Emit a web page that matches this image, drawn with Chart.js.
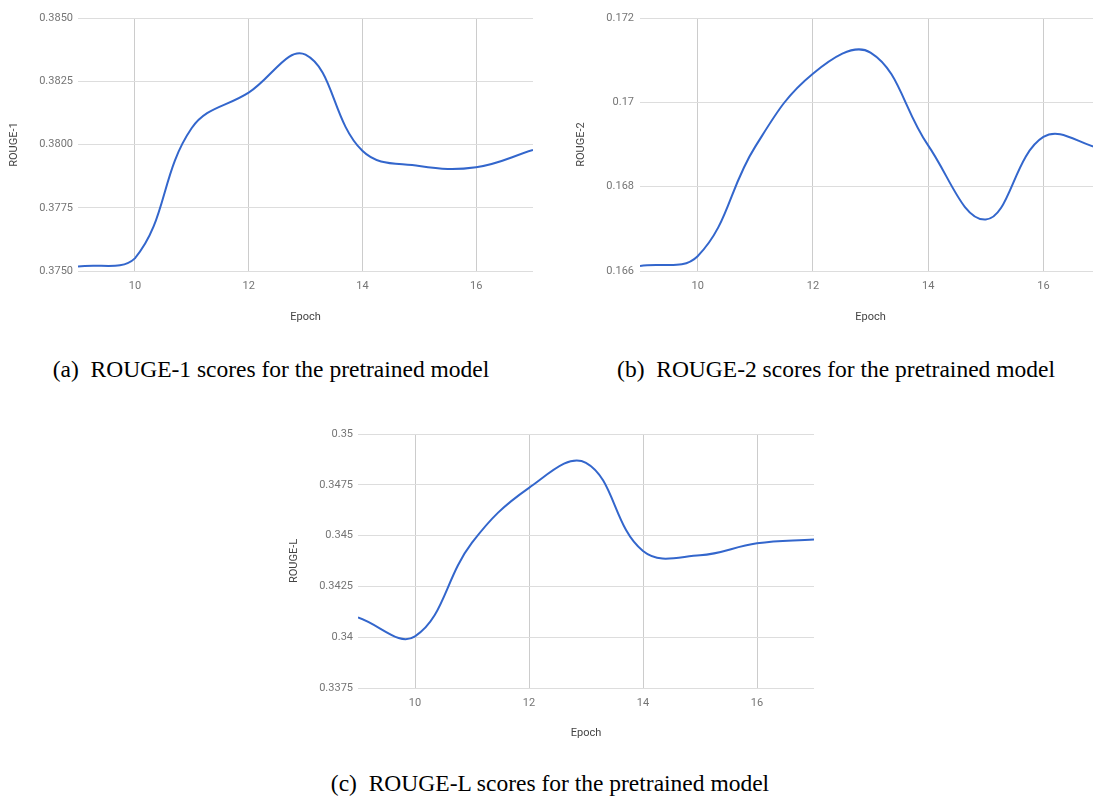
<!DOCTYPE html>
<html>
<head>
<meta charset="utf-8">
<script src="https://cdn.jsdelivr.net/npm/chart.js@4.4.1/dist/chart.umd.min.js"></script>
<style>
  html, body { margin:0; padding:0; background:#fff; overflow:hidden; width:1093px; height:796px; position:relative; }
  .box { position:absolute; }
  .cap { position:absolute; font-family:"Liberation Serif","Times New Roman",serif; font-size:23.5px; color:#000; white-space:pre; transform:translate(-50%,-50%); }
</style>
</head>
<body>
<div class="box" style="left:0px;top:0px;width:540px;height:330px"><canvas id="chartA"></canvas></div>
<div class="box" style="left:560px;top:0px;width:548px;height:330px"><canvas id="chartB"></canvas></div>
<div class="box" style="left:280px;top:416px;width:541px;height:330px"><canvas id="chartC"></canvas></div>
<div class="cap" style="left:271px;top:369px">(a)  ROUGE-1 scores for the pretrained model</div>
<div class="cap" style="left:836px;top:369px">(b)  ROUGE-2 scores for the pretrained model</div>
<div class="cap" style="left:550px;top:783px">(c)  ROUGE-L scores for the pretrained model</div>
<script>
const epochs = [9, 10, 11, 12, 13, 14, 15, 16, 17];
const rouge1 = [0.37518, 0.37550, 0.38065, 0.38205, 0.38355, 0.37975, 0.37915, 0.37910, 0.37978];
const rouge2 = [0.16612, 0.16635, 0.16895, 0.17068, 0.17118, 0.16898, 0.16722, 0.16918, 0.16890];
const rougeL = [0.34097, 0.34004, 0.34465, 0.34735, 0.34858, 0.34424, 0.34403, 0.34462, 0.34481];

const xTicks = [10, 12, 14, 16];
const yTicks1 = [0.375, 0.3775, 0.38, 0.3825, 0.385];
const yLabels1 = ['0.3750', '0.3775', '0.3800', '0.3825', '0.3850'];
const yTicks2 = [0.166, 0.168, 0.17, 0.172];
const yLabels2 = ['0.166', '0.168', '0.17', '0.172'];
const yTicksL = [0.3375, 0.34, 0.3425, 0.345, 0.3475, 0.35];
const yLabelsL = ['0.3375', '0.34', '0.3425', '0.345', '0.3475', '0.35'];

const tickFont = { family: 'Roboto', size: 11 };

function makeChart(id, values, yTicks, yLabels, yTitle, opts) {
  const ctx = document.getElementById(id);
  const points = epochs.map((e, i) => ({ x: e, y: values[i] }));
  new Chart(ctx, {
    type: 'line',
    data: {
      datasets: [{
        data: points,
        borderColor: '#3366cc',
        borderWidth: 2,
        pointRadius: 0,
        tension: 0.4,
        fill: false
      }]
    },
    options: {
      responsive: true,
      maintainAspectRatio: false,
      animation: false,
      layout: { padding: { top: 18, right: 7, left: 0, bottom: 0 } },
      plugins: { legend: { display: false }, tooltip: { enabled: false } },
      scales: {
        x: {
          type: 'linear',
          min: 9,
          max: 17,
          afterBuildTicks: s => { s.ticks = xTicks.map(v => ({ value: v })); },
          afterFit: s => { s.height = opts.xHeight; },
          ticks: { font: tickFont, color: '#757575', padding: 9, maxRotation: 0, autoSkip: false },
          grid: { color: '#cccccc', drawTicks: false },
          border: { display: false },
          title: { display: true, text: 'Epoch', font: tickFont, color: '#444', padding: { top: 0, bottom: 6 } }
        },
        y: {
          min: yTicks[0],
          max: yTicks[yTicks.length - 1],
          afterBuildTicks: s => { s.ticks = yTicks.map(v => ({ value: v })); },
          afterFit: s => { s.width = opts.yWidth; },
          ticks: {
            font: tickFont, color: '#757575', padding: opts.yPad, autoSkip: false,
            callback: (v) => { const i = yTicks.findIndex(t => Math.abs(t - v) < 1e-9); return i >= 0 ? yLabels[i] : ''; }
          },
          grid: { color: '#dddddd', drawTicks: false },
          border: { display: false },
          title: { display: true, text: yTitle, font: tickFont, color: '#444', padding: { top: opts.titlePad, bottom: 0 } }
        }
      }
    }
  });
}

makeChart('chartA', rouge1, yTicks1, yLabels1, 'ROUGE-1', { xHeight: 59, yWidth: 78, yPad: 5, titlePad: 8 });
makeChart('chartB', rouge2, yTicks2, yLabels2, 'ROUGE-2', { xHeight: 59, yWidth: 80, yPad: 6, titlePad: 15 });
makeChart('chartC', rougeL, yTicksL, yLabelsL, 'ROUGE-L', { xHeight: 58, yWidth: 78, yPad: 5, titlePad: 8 });
</script>
</body>
</html>
